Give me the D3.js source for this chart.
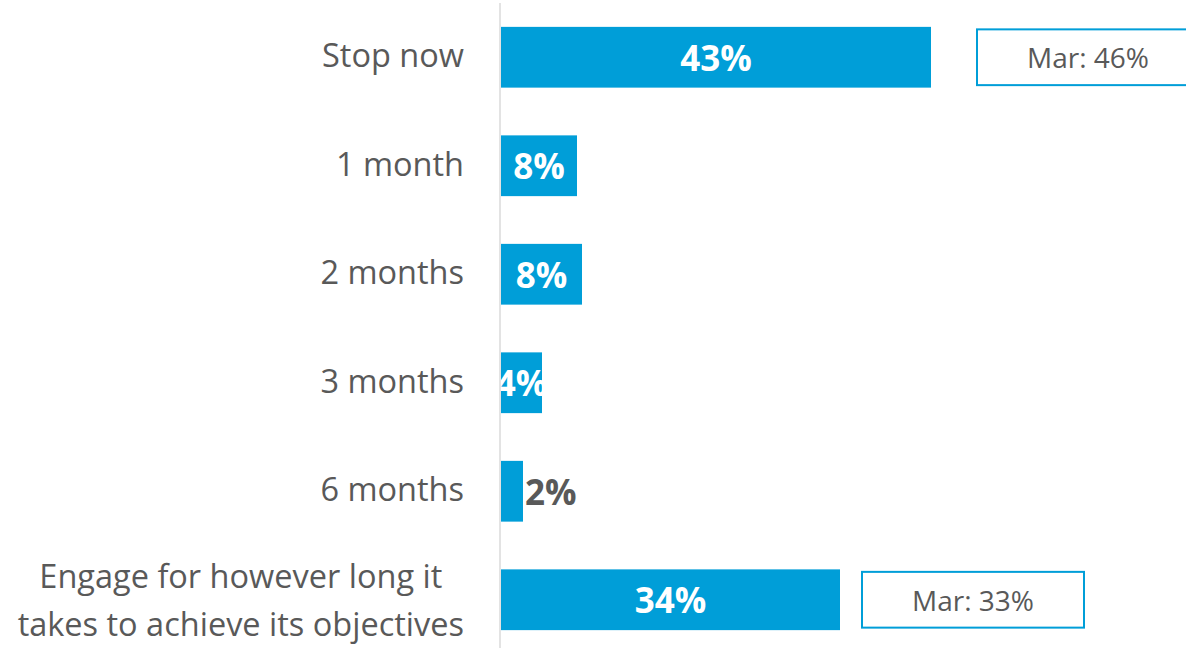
<!DOCTYPE html>
<meta charset="utf-8">
<style>
  body { margin: 0; background: #fff; }
  svg { display: block; font-family: "Open Sans", sans-serif; }
  .cat { fill: #595959; font-size: 32.5px; }
  .val { font-size: 35px; font-weight: bold; }
  .mar { fill: #595959; font-size: 28px; }
</style>
<body>
<script src="https://d3js.org/d3.v7.min.js"></script>
<script>

// data
var categories = ["Stop now", "1 month", "2 months", "3 months", "6 months",
                  "Engage for however long it|takes to achieve its objectives"];
var values = [43.0, 7.6, 8.1, 4.1, 2.2, 33.9];
var valueLabels = ["43%", "8%", "8%", "4%", "2%", "34%"];
// March comparison boxes (index of row, label)
var marRows = [0, 5];
var marLabels = ["Mar: 46%", "Mar: 33%"];

var width = 1186, height = 648;

var svg = d3.select("body").append("svg")
    .attr("width", width)
    .attr("height", height);

// set the ranges
var x = d3.scaleLinear().domain([0, 50]).range([501, 1001]);
var y = d3.scaleBand()
    .domain(d3.range(categories.length))
    .range([3, 654])
    .paddingInner(0.44)
    .paddingOuter(0.22);

// clip so labels don't spill left of the axis
svg.append("clipPath").attr("id", "plot")
  .append("rect")
    .attr("x", 501).attr("y", 0)
    .attr("width", width).attr("height", height);

// bars
svg.selectAll(".bar")
    .data(values)
  .enter().append("rect")
    .attr("class", "bar")
    .attr("x", x(0))
    .attr("y", function(d, i) { return y(i); })
    .attr("width", function(d) { return x(d) - x(0); })
    .attr("height", y.bandwidth())
    .attr("fill", "#009ed8");

// axis line
svg.append("line")
    .attr("x1", 500).attr("x2", 500)
    .attr("y1", 3).attr("y2", height)
    .attr("stroke", "#e3e3e3")
    .attr("stroke-width", 2);

// value labels: inside bar if it fits, else just outside
svg.append("g").attr("clip-path", "url(#plot)")
  .selectAll(".val")
    .data(values)
  .enter().append("text")
    .attr("class", "val")
    .attr("y", function(d, i) { return y(i) + y.bandwidth() / 2; })
    .attr("dy", "0.39em")
    .attr("x", function(d) { return d < 3 ? x(d) + 2 : (x(0) + x(d)) / 2; })
    .attr("text-anchor", function(d) { return d < 3 ? "start" : "middle"; })
    .attr("fill", function(d) { return d < 3 ? "#595959" : "#fff"; })
    .text(function(d, i) { return valueLabels[i]; });

// category labels (multi-line ones are centred as a block ending at the axis gap)
var cats = svg.selectAll(".cat")
    .data(categories)
  .enter().append("text")
    .attr("class", "cat")
    .attr("y", function(d, i) { return y(i) + y.bandwidth() / 2; });

cats.each(function(d) {
  var lines = d.split("|");
  var t = d3.select(this);
  if (lines.length === 1) {
    t.attr("text-anchor", "end").attr("x", 464).attr("dy", "0.3em").text(d);
    return;
  }
  lines.forEach(function(l, j) {
    t.append("tspan")
        .attr("dy", j === 0 ? "-0.37em" : "1.5em")
        .text(l);
  });
  // measure the widest line and centre all lines on that block
  var w = d3.max(t.selectAll("tspan").nodes(), function(n) { return n.getComputedTextLength(); });
  t.attr("text-anchor", "middle");
  t.selectAll("tspan").attr("x", 464 - w / 2);
});

// March boxes
var boxX = [977, 862], boxW = [222, 222];
var mar = svg.selectAll(".marbox")
    .data(marRows)
  .enter().append("g")
    .attr("class", "marbox");

mar.append("rect")
    .attr("x", function(d, i) { return boxX[i]; })
    .attr("y", function(d) { return y(d) + 2.5; })
    .attr("width", function(d, i) { return boxW[i]; })
    .attr("height", y.bandwidth() - 5)
    .attr("fill", "#fff")
    .attr("stroke", "#009ed8")
    .attr("stroke-width", 2);

mar.append("text")
    .attr("class", "mar")
    .attr("text-anchor", "middle")
    .attr("x", function(d, i) { return boxX[i] + boxW[i] / 2; })
    .attr("y", function(d) { return y(d) + y.bandwidth() / 2; })
    .attr("dy", "0.39em")
    .text(function(d, i) { return marLabels[i]; });

</script>
</body>
